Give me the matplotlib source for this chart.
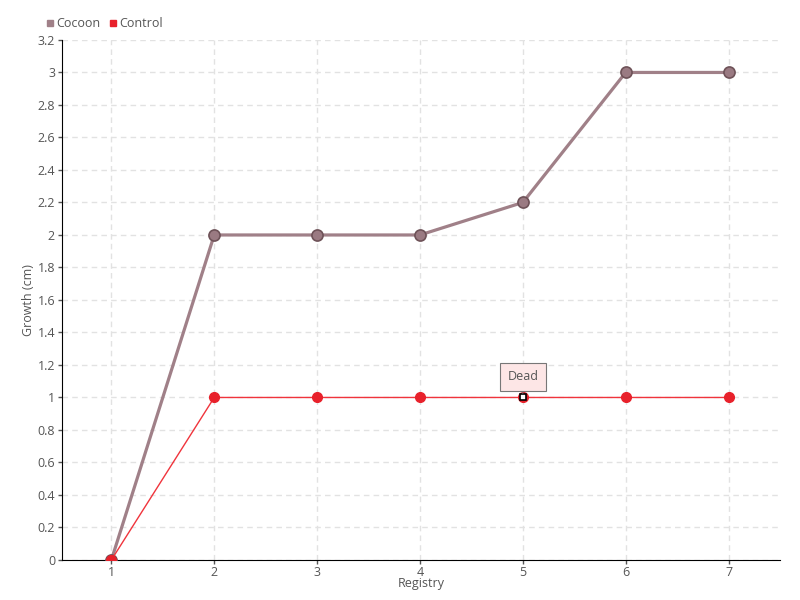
import matplotlib.pyplot as plt
from matplotlib.lines import Line2D

# data
registry = [1, 2, 3, 4, 5, 6, 7]
cocoon = [0, 2, 2, 2, 2.2, 3, 3]
control = [0, 1, 1, 1, 1, 1, 1]
y_ticks = [0, 0.2, 0.4, 0.6, 0.8, 1, 1.2, 1.4, 1.6, 1.8, 2, 2.2, 2.4, 2.6, 2.8, 3, 3.2]
dead_idx = 4

plt.rcParams["font.family"] = ["Open Sans", "DejaVu Sans"]

fig = plt.figure(figsize=(8, 6), dpi=100)
ax = fig.add_axes([0.0775, 0.0667, 0.8975, 0.8667])

ax.plot(registry, cocoon, color="#a08088", lw=2.3, marker="o", ms=8,
        mfc="#9a7a82", mec="#6e5258", mew=1.2, zorder=3)
ax.plot(registry, control, color="#f0343c", lw=1, marker="o", ms=7,
        mfc="#e8212b", mec="#e8212b", zorder=4)

# highlighted point with tooltip
ax.plot(registry[dead_idx], control[dead_idx], marker="s", ms=4, mfc="white",
        mec="black", mew=1.2, zorder=6)
ax.annotate("Dead", xy=(registry[dead_idx], control[dead_idx]),
            xytext=(0, 15), textcoords="offset points", ha="center", va="center",
            fontsize=9, color="#555555",
            bbox=dict(boxstyle="square,pad=0.6", fc="#fde6e6", ec="#777777", lw=0.8),
            arrowprops=dict(arrowstyle="-", color="#777777", lw=0.8,
                            shrinkA=0, shrinkB=3),
            zorder=7)

ax.set_xlim(0.52, 7.5)
ax.set_ylim(0, 3.2)
ax.set_xticks(registry)
ax.set_yticks(y_ticks)
ax.set_yticklabels([f"{v:g}" for v in y_ticks])

ax.grid(True, color="#e2e2e2", linestyle=(0, (4, 3)), lw=1)
ax.set_axisbelow(True)
for s in ["top", "right"]:
    ax.spines[s].set_visible(False)
ax.spines["left"].set_color("black")
ax.spines["bottom"].set_color("black")
ax.tick_params(axis="both", colors="#555555", labelsize=9, length=3, width=1)
ax.tick_params(axis="y", pad=2)
ax.tick_params(axis="x", pad=1)

ax.set_xlabel("Registry", fontsize=9, color="#555555", labelpad=-1)
ax.set_ylabel("Growth (cm)", fontsize=9, color="#555555", labelpad=2)

handles = [
    Line2D([], [], ls="none", marker="s", ms=5, mfc="#a08088", mec="#a08088"),
    Line2D([], [], ls="none", marker="s", ms=5, mfc="#e8212b", mec="#e8212b"),
]
fig.legend(handles, ["Cocoon", "Control"], loc="upper left",
           bbox_to_anchor=(0.05, 0.98), ncol=2, frameon=False, fontsize=9,
           handletextpad=0.1, columnspacing=0.6, handlelength=0.8,
           labelcolor="#555555", borderaxespad=0)

fig.savefig("out.png", dpi=100)
